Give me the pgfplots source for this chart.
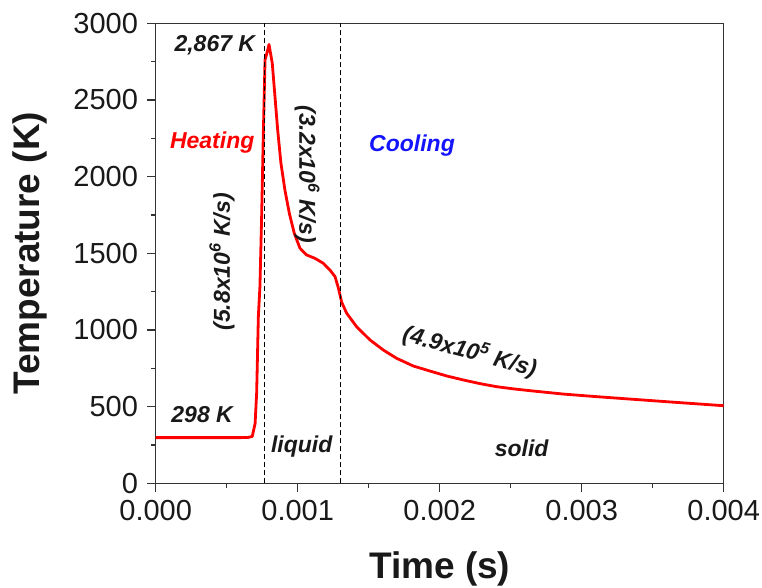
\documentclass[border=0pt]{standalone}
\usepackage{fontspec}
\setmainfont{Liberation Sans}
\usepackage{pgfplots}
\pgfplotsset{compat=1.18}
\definecolor{curvered}{RGB}{255,0,0}
\definecolor{coolblue}{RGB}{20,20,255}
\definecolor{txt}{RGB}{25,25,25}
\begin{document}
\begin{tikzpicture}
\useasboundingbox (-155.7pt,-104.7pt) rectangle (606.3pt,483.3pt);
\begin{axis}[
  at={(0pt,0pt)}, anchor=south west,
  scale only axis, width=568pt, height=460pt,
  xmin=0, xmax=0.004, ymin=0, ymax=3000,
  xtick={0,0.001,0.002,0.003,0.004},
  ytick={0,500,1000,1500,2000,2500,3000},
  minor tick num=1,
  tick align=outside,
  xtick pos=bottom, ytick pos=left,
  major tick length=8.5pt, minor tick length=4.5pt,
  axis line style={black!80, line width=1.4pt},
  every tick/.style={black!80, line width=1.3pt},
  scaled x ticks=false,
  xticklabel style={/pgf/number format/fixed, /pgf/number format/fixed zerofill, /pgf/number format/precision=3, inner sep=0pt, anchor=north, yshift=-8pt},
  yticklabel style={/pgf/number format/1000 sep={}, inner sep=0pt, anchor=east, xshift=-9pt},
  /pgf/number format/assume math mode=true,
  tick label style={font=\fontsize{29}{34}\selectfont, text=txt},
  xlabel={Time (s)},
  ylabel={Temperature (K)},
  label style={font=\fontsize{37}{42}\selectfont\bfseries, text=txt},
  xlabel style={at={(axis description cs:0.5,-0.206)}, anchor=base},
  ylabel style={at={(axis description cs:-0.221,0.5)}, anchor=center},
  clip=false,
]
\addplot[curvered, line width=2.8pt, line join=round] coordinates {
(0,298) (0.0006,298) (0.00065,299) (0.00068,306) (0.0007,390) (0.000711,590)
(0.000723,1090) (0.000734,1282) (0.000746,1739) (0.000758,2283) (0.00077,2761)
(0.000789,2826) (0.000798,2862) (0.000821,2739) (0.00084,2521) (0.000859,2304)
(0.000882,2087) (0.00091,1913) (0.000941,1761) (0.000976,1630) (0.001016,1533)
(0.001063,1489) (0.001122,1467) (0.00118,1435) (0.001227,1391) (0.001263,1348)
(0.001286,1275) (0.00131,1180) (0.001345,1109) (0.001415,1021) (0.001509,935)
(0.001603,869) (0.001697,815) (0.001814,765) (0.001932,732) (0.002049,700)
(0.002166,674) (0.002284,650) (0.002401,630) (0.002518,616) (0.002636,604)
(0.00287,582) (0.003106,565) (0.0033,552) (0.0036,532) (0.0038,519) (0.004,506)
};
\addplot[black, line width=1.2pt, dash pattern=on 5pt off 3pt] coordinates {(0.000768,0) (0.000768,3000)};
\addplot[black, line width=1.2pt, dash pattern=on 5pt off 3pt] coordinates {(0.0013,0) (0.0013,3000)};
\begin{scope}[every node/.style={font=\fontsize{23}{26}\selectfont\bfseries\itshape, text=txt}]
\node[anchor=east] at (axis cs:0.000725,2859) {2,867 K};
\node[text=curvered] at (axis cs:0.000398,2220) {Heating};
\node[text=coolblue] at (axis cs:0.001805,2200) {Cooling};
\node[rotate=90] at (axis cs:0.000467,1444) {(5.8x10\textsuperscript{6} K/s)};
\node[rotate=-90] at (axis cs:0.001066,2017) {(3.2x10\textsuperscript{6} K/s)};
\node[rotate=-15] at (axis cs:0.002213,862) {(4.9x10\textsuperscript{5} K/s)};
\node at (axis cs:0.000327,446) {298 K};
\node at (axis cs:0.001028,239) {liquid};
\node at (axis cs:0.002577,230) {solid};
\end{scope}
\end{axis}
\end{tikzpicture}
\end{document}
